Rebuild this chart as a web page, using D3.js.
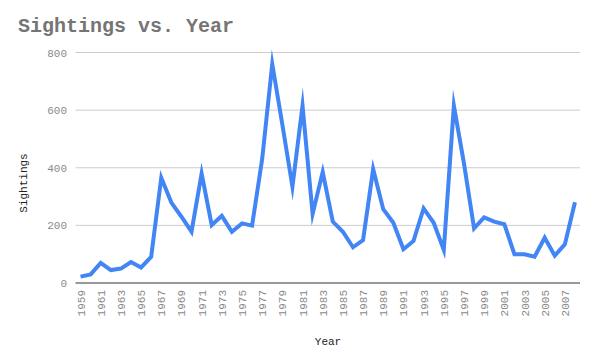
<!DOCTYPE html>
<html><head><meta charset="utf-8">
<script src="https://cdn.jsdelivr.net/npm/d3@7/dist/d3.min.js"></script>
<style>body{margin:0;background:#fff}svg{display:block}</style>
</head><body>
<svg id="c" width="596" height="357"></svg>
<script>
const years = d3.range(1959, 2009).map(String);
const sightings = [22,30,70,45,50,73,54,91,365,279,230,178,380,201,233,178,207,199,430,760,550,334,615,240,385,213,178,124,149,395,256,209,117,146,259,209,115,615,415,190,228,213,204,100,100,91,157,95,134,280];
const yTicks = [0,200,400,600,800];
const title = "Sightings vs. Year";
const xTitle = "Year";
const yTitle = "Sightings";

const svg = d3.select("#c");
const font = "'Liberation Mono','Courier New',monospace";
const m = {l:75.5, r:580, t:52.5, b:283};

const x = d3.scaleBand().domain(years).range([m.l, m.r]);
const y = d3.scaleLinear().domain([0,800]).range([m.b, m.t]);

// gridlines
svg.append("g").selectAll("line").data(yTicks.filter(d=>d>0)).join("line")
  .attr("x1", m.l).attr("x2", m.r)
  .attr("y1", d=>y(d)).attr("y2", d=>y(d))
  .attr("stroke", "#cccccc").attr("stroke-width", 1);

// y tick labels
svg.append("g").selectAll("text").data(yTicks).join("text")
  .attr("x", 67).attr("y", d=>y(d)+4)
  .attr("text-anchor","end")
  .attr("font-family", font).attr("font-size", 11).attr("fill", "#8a8a8a")
  .text(d=>d);

// x tick labels (every other year)
svg.append("g").selectAll("text").data(years.filter((d,i)=>i%2===0)).join("text")
  .attr("transform", d=>`translate(${x(d)+x.bandwidth()/2+4},290) rotate(-90)`)
  .attr("text-anchor","end")
  .attr("font-family", font).attr("font-size", 11).attr("fill", "#8a8a8a")
  .text(d=>d);

// line
const line = d3.line()
  .x((d,i)=>x(years[i])+x.bandwidth()/2)
  .y(d=>y(d));
svg.append("path").datum(sightings)
  .attr("d", line)
  .attr("fill","none").attr("stroke","#4285f4")
  .attr("stroke-width",4).attr("stroke-linejoin","miter").attr("stroke-miterlimit",10);

// baseline
svg.append("line").attr("x1", m.l).attr("x2", m.r)
  .attr("y1", y(0)).attr("y2", y(0))
  .attr("stroke","#333").attr("stroke-width",1);

// title
svg.append("text").attr("x", 18).attr("y", 32)
  .attr("font-family", font).attr("font-size", 20).attr("font-weight","bold")
  .attr("fill", "#757575").text(title);

// axis titles
svg.append("text").attr("x", 328).attr("y", 345)
  .attr("text-anchor","middle")
  .attr("font-family", font).attr("font-size", 11).attr("fill", "#222")
  .text(xTitle);
svg.append("text").attr("transform", "translate(27,183) rotate(-90)")
  .attr("text-anchor","middle")
  .attr("font-family", font).attr("font-size", 11).attr("fill", "#222")
  .text(yTitle);
</script>
</body></html>
